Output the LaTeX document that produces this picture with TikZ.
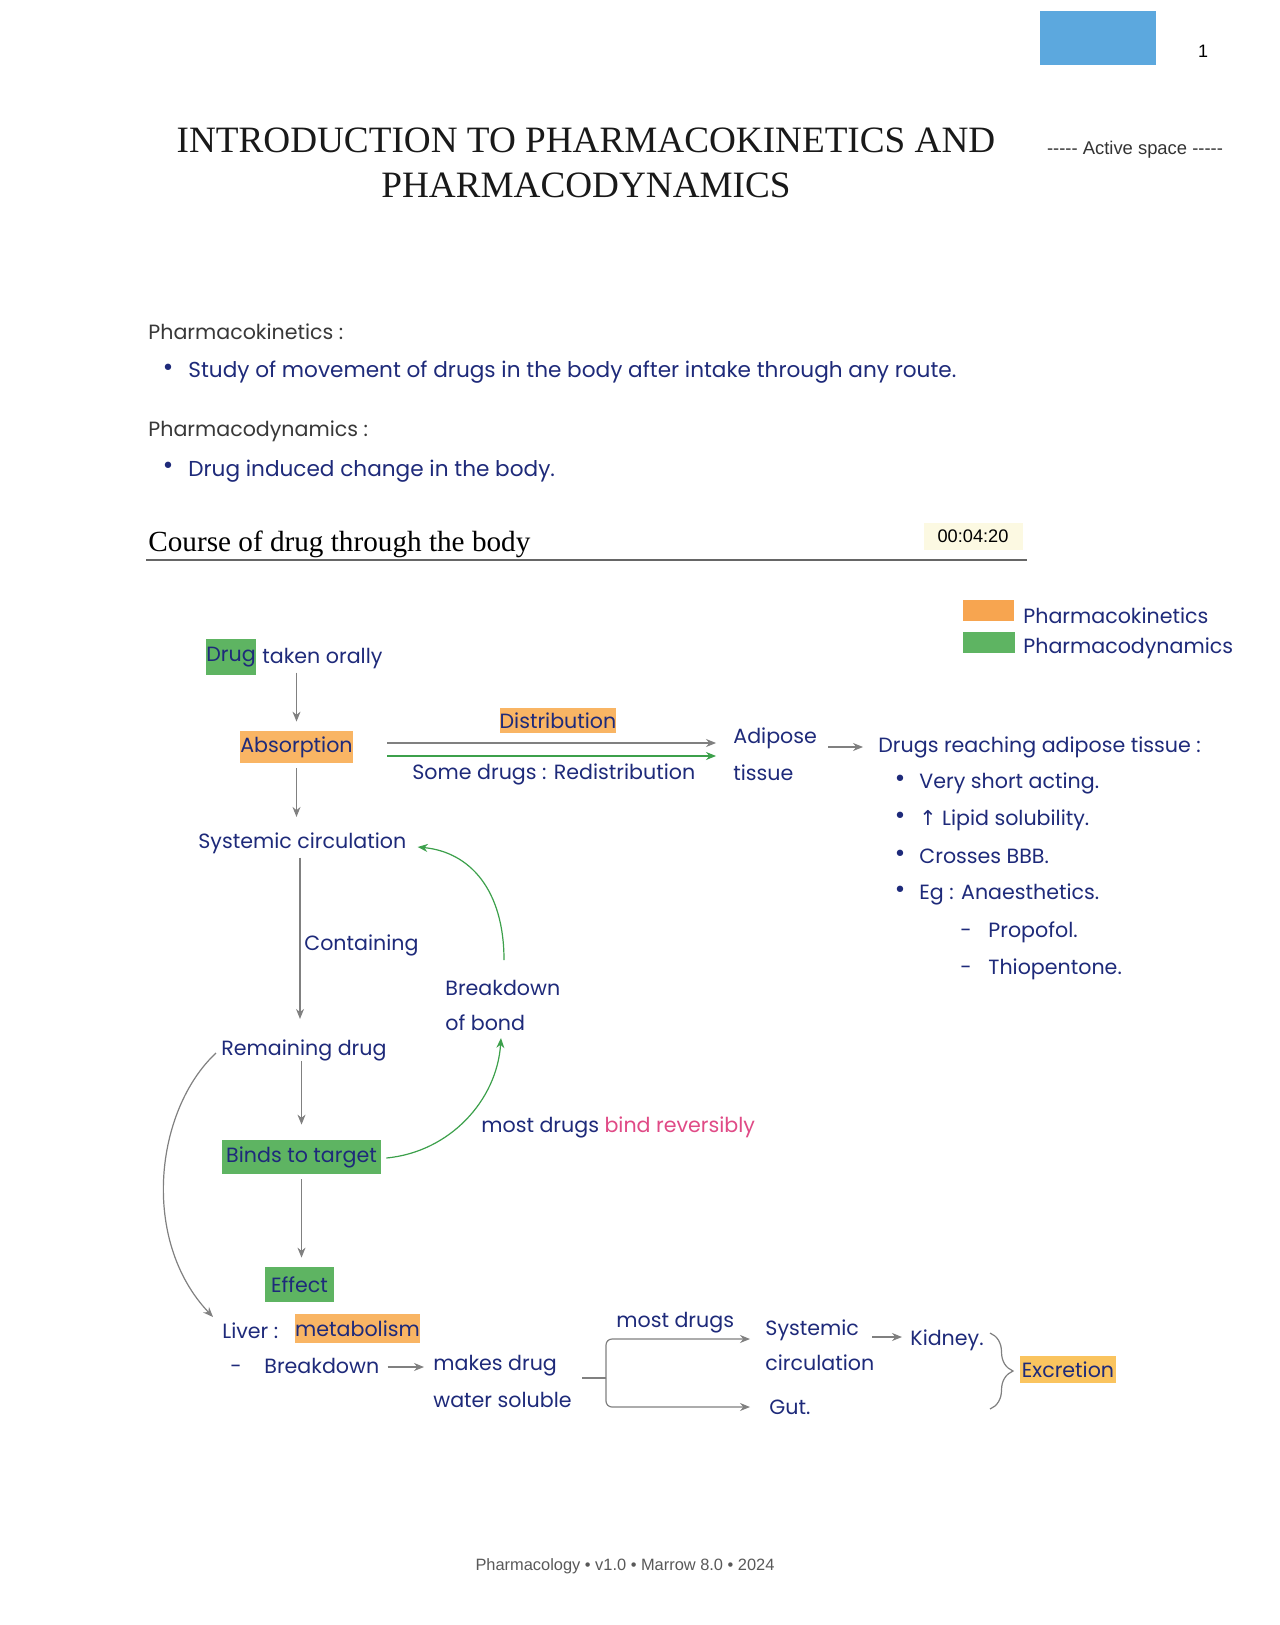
\documentclass[tikz,border=0pt]{standalone}
\usepackage{fontspec}
\setmainfont{Liberation Serif}
\newfontfamily\hw{Poppins}
\newfontfamily\sans{Liberation Sans}
\newfontfamily\sym{DejaVu Sans}
\usetikzlibrary{arrows.meta,calc,decorations.pathreplacing}
\definecolor{navy}{RGB}{30,42,122}
\definecolor{hlorange}{RGB}{249,181,100}
\definecolor{legorange}{RGB}{247,165,80}
\definecolor{hlgreen}{RGB}{94,180,98}
\definecolor{arrgray}{RGB}{128,128,128}
\definecolor{arrgreen}{RGB}{60,160,75}
\definecolor{pinktext}{RGB}{224,74,134}
\definecolor{tabblue}{RGB}{92,168,222}
\definecolor{timebg}{RGB}{252,249,226}
\definecolor{exorange}{RGB}{250,196,95}
\begin{document}
\begin{tikzpicture}[x=0.5pt,y=-0.5pt,
  hwtext/.style={font=\hw\fontsize{10.3}{12}\selectfont, text=navy, inner sep=0pt, anchor=base west},
  toptext/.style={font=\hw\fontsize{10.8}{13}\selectfont, text=navy, inner sep=0pt, anchor=base west},
  headtext/.style={font=\hw\fontsize{10.3}{12}\selectfont, text=black!78, inner sep=0pt, anchor=base west},
  hlbox/.style={inner sep=0pt, text=navy, font=\hw\fontsize{10.3}{12}\selectfont},
  legbox/.style={inner sep=0pt},
  bul/.style={font=\sym\fontsize{11}{12}\selectfont, text=navy, inner sep=0pt, anchor=base},
  titlef/.style={font=\fontsize{18.6}{22}\selectfont, text=black!90, inner sep=0pt, anchor=base},
  garrow/.style={draw=arrgray, line width=0.6pt, -{Stealth[length=5pt,width=4pt]}},
  grnarrow/.style={draw=arrgreen, line width=0.6pt, -{Stealth[length=5pt,width=4pt]}},
]
\fill[white] (0,0) rectangle (1279,1625);
\path[use as bounding box] (0,0) rectangle (1279,1625);

% header
\node[fill=tabblue, minimum width=58pt, minimum height=27pt, inner sep=0pt] (tab) at (1098,38) {};
\node[font=\sans\fontsize{9}{10}\selectfont, inner sep=0pt] (pnum) at (1203,51) {1};
\node[titlef] (title1) at (586,153) {INTRODUCTION TO PHARMACOKINETICS AND};
\node[titlef] (title2) at (586,198) {PHARMACODYNAMICS};
\node[font=\sans\fontsize{9.2}{10}\selectfont, text=black!80, inner sep=0pt] (active) at (1135,150) {{-}{-}{-}{-}{-} Active space {-}{-}{-}{-}{-}};

% definitions
\node[headtext] (pkhead) at (148,340) {Pharmacokinetics :};
\node[bul] (b1) at (168,376) {•};
\node[toptext] (pktext) at (188,378) {Study of movement of drugs in the body after intake through any route.};
\node[headtext] (pdhead) at (148,437) {Pharmacodynamics :};
\node[bul] (b2) at (168,474) {•};
\node[toptext] (pdtext) at (188,477) {Drug induced change in the body.};

% section heading
\node[font=\fontsize{14.6}{16}\selectfont, anchor=base west, inner sep=0pt, text=black] (course) at (148,552) {Course of drug through the body};
\draw[black!60, line width=1pt] (146,560) -- (1027,560);
\node[fill=timebg, minimum width=49.5pt, minimum height=13.5pt, inner sep=0pt, font=\sans\fontsize{9.1}{10}\selectfont] (time) at (973,536.5) {00:04:20};

% legend
\node[legbox, fill=legorange, minimum width=25.5pt, minimum height=10.5pt] (legk) at (988.5,610.5) {};
\node[legbox, fill=hlgreen, minimum width=26pt, minimum height=10.5pt] (legd) at (989,642.5) {};
\node[hwtext] (legktext) at (1023,623) {Pharmacokinetics};
\node[hwtext] (legdtext) at (1023,653) {Pharmacodynamics};

% main column
\node[hlbox, fill=hlgreen, minimum width=25pt, minimum height=18pt] (drug) at (231,657) {Drug};
\node[hwtext] (taken) at (262,663) {taken orally};
\node[hlbox, fill=hlorange, minimum width=53.5pt, minimum height=16pt] (absorption) at (296.5,747) {Absorption};
\node[hlbox, fill=hlorange, minimum width=58pt, minimum height=12.5pt] (distribution) at (558,720.5) {Distribution};
\node[hwtext] (somedrugs) at (412,779) {Some drugs : Redistribution};
\node[hwtext] (adipose) at (733,743) {Adipose};
\node[hwtext] (tissue) at (733,780) {tissue};
\node[hwtext] (sys) at (198,848) {Systemic circulation};
\node[hwtext] (containing) at (304,950) {Containing};
\node[hwtext] (breakdown) at (445,995) {Breakdown};
\node[hwtext] (ofbond) at (445,1030) {of bond};
\node[hwtext] (remaining) at (221,1055) {Remaining drug};
\node[hlbox, fill=hlgreen, minimum width=79.5pt, minimum height=17pt] (binds) at (301.5,1157) {Binds to target};
\node[hwtext] (mostbind) at (481,1132) {most drugs \textcolor{pinktext}{bind reversibly}};
\node[hlbox, fill=hlgreen, minimum width=34.5pt, minimum height=17.5pt] (effect) at (299.5,1284.5) {Effect};

% adipose list
\node[hwtext] (reach) at (878,752) {Drugs reaching adipose tissue :};
\node[bul] (r1) at (900,786) {•};
\node[hwtext] (r1t) at (919,788) {Very short acting.};
\node[bul] (r2) at (900,823) {•};
\node[hwtext] (r2t) at (919,825) {{\sym ↑} Lipid solubility.};
\node[bul] (r3) at (900,861) {•};
\node[hwtext] (r3t) at (919,863) {Crosses BBB.};
\node[bul] (r4) at (900,897) {•};
\node[hwtext] (r4t) at (919,899) {Eg : Anaesthetics.};
\node[hwtext] (d1) at (960,937) {-};
\node[hwtext] (propofol) at (988,937) {Propofol.};
\node[hwtext] (d2) at (960,974) {-};
\node[hwtext] (thio) at (988,974) {Thiopentone.};

% liver / excretion
\node[hwtext] (liver) at (222,1338) {Liver :};
\node[hlbox, fill=hlorange, minimum width=60.5pt, minimum height=14.5pt] (metab) at (357.5,1328.5) {metabolism};
\node[hwtext] (dash3) at (230,1373) {-};
\node[hwtext] (bkd) at (264,1373) {Breakdown};
\node[hwtext] (makes) at (433,1370) {makes drug};
\node[hwtext] (water) at (433,1407) {water soluble};
\node[hwtext] (mostdrugs) at (616,1327) {most drugs};
\node[hwtext] (sys2a) at (765,1335) {Systemic};
\node[hwtext] (sys2b) at (765,1370) {circulation};
\node[hwtext] (kidney) at (910,1345) {Kidney.};
\node[hwtext] (gut) at (769,1414) {Gut.};
\node[hlbox, fill=exorange, minimum width=48pt, minimum height=13.5pt] (excretion) at (1068,1369.5) {Excretion};

% footer
\node[font=\sans\fontsize{8.2}{9}\selectfont, text=black!65, inner sep=0pt] (footer) at (625,1566) {Pharmacology • v1.0 • Marrow 8.0 • 2024};

% connectors
\draw[garrow, shorten <=2pt, shorten >=4.5pt] (absorption.north |- taken.south) -- (absorption.north);
\draw[garrow, shorten <=2.5pt, shorten >=7.5pt] (absorption.south) -- (absorption.south |- sys.north);
\coordinate (c0) at ($(containing.west)+(-4,0)$);
\draw[garrow, shorten <=2pt, shorten >=10pt] (sys.south -| c0) -- (remaining.north -| c0);
\draw[garrow, shorten >=7.5pt] (binds.north |- remaining.south) -- (binds.north);
\draw[garrow, shorten <=2.5pt, shorten >=4.5pt] (binds.south) -- (binds.south |- effect.north);

\coordinate (g1) at ($(absorption.east)+(34,-4)$);
\coordinate (g2) at ($(absorption.east)+(34,9)$);
\draw[garrow, shorten >=8.5pt] (g1) -- (g1 -| adipose.west);
\draw[grnarrow, shorten >=8.5pt] (g2) -- (g2 -| adipose.west);

\draw[garrow] ($(reach.base west)+(-50,-5)$) -- ($(reach.base west)+(-15,-5)$);

\draw[grnarrow] ($(breakdown.base west)+(59,-35)$) .. controls (504,890) and (470,852) .. ($(sys.base east)+(11,-1)$);
\draw[grnarrow] ($(binds.east)+(5,1)$) .. controls (450,1152) and (497,1100) .. ($(ofbond.base west)+(56,8)$);
\draw[garrow] ($(remaining.base west)+(-5,-2)$) .. controls (155,1110) and (140,1240) .. ($(liver.base west)+(-9,-21)$);

\draw[garrow] ($(bkd.base east)+(8,-6)$) -- ($(makes.base west)+(-9,-3)$);
\coordinate (br) at (582,1378);
\coordinate (brj) at (606,1378);
\draw[arrgray, line width=0.6pt] (br) -- (brj);
\draw[garrow, rounded corners=3pt] (brj) |- ($(sys2a.base west)+(-15,4)$);
\draw[garrow, rounded corners=3pt] (brj) |- ($(gut.base west)+(-19,-7)$);
\draw[garrow] ($(kidney.base west)+(-38,-8)$) -- ($(kidney.base west)+(-8,-8)$);
\draw[arrgray, line width=0.6pt, decorate, decoration={brace, amplitude=11.5pt}] (990,1333) -- (990,1409);
\end{tikzpicture}
\end{document}
